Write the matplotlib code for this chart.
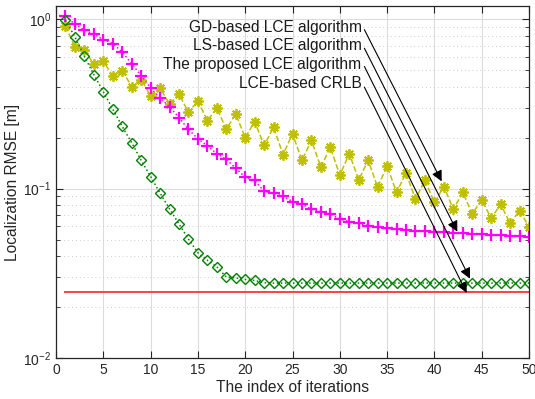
import numpy as np
import matplotlib
matplotlib.use("Agg")
import matplotlib.pyplot as plt

plt.rcParams['font.family'] = ['Liberation Sans', 'DejaVu Sans']

# Iteration index
iters = np.arange(1, 51)

# GD-based LCE algorithm (yellow asterisks)
gd_rmse = [0.912, 0.687, 0.663, 0.542, 0.567, 0.462, 0.499, 0.401, 0.441, 0.354,
           0.394, 0.316, 0.363, 0.282, 0.331, 0.252, 0.299, 0.225, 0.276, 0.200,
           0.249, 0.180, 0.230, 0.159, 0.211, 0.147, 0.193, 0.134, 0.176, 0.120,
           0.161, 0.113, 0.147, 0.102, 0.136, 0.095, 0.124, 0.0867, 0.112, 0.0829,
           0.103, 0.0756, 0.0951, 0.0710, 0.0860, 0.0668, 0.0810, 0.0624, 0.0743, 0.0597]

# LS-based LCE algorithm (magenta plus)
ls_rmse = [1.046, 0.938, 0.864, 0.818, 0.760, 0.720, 0.641, 0.547, 0.466, 0.394,
           0.343, 0.305, 0.263, 0.224, 0.197, 0.179, 0.161, 0.149, 0.132, 0.117,
           0.112, 0.0964, 0.0942, 0.0900, 0.0840, 0.0810, 0.0756, 0.0733, 0.0706, 0.0663,
           0.0639, 0.0624, 0.0605, 0.0591, 0.0583, 0.0576, 0.0572, 0.0566, 0.0563, 0.0557,
           0.0553, 0.0549, 0.0545, 0.0542, 0.0538, 0.0535, 0.0532, 0.0528, 0.0525, 0.0520]

# Proposed LCE algorithm (green diamonds)
prop_rmse = [0.99, 0.788, 0.604, 0.472, 0.374, 0.295, 0.233, 0.187, 0.147, 0.118,
             0.0942, 0.0760, 0.0619, 0.0504, 0.0418, 0.0378, 0.0345, 0.0301, 0.0297, 0.0291,
             0.0287, 0.0278, 0.0277, 0.0277, 0.0277, 0.0277, 0.0277, 0.0277, 0.0277, 0.0277,
             0.0277, 0.0277, 0.0277, 0.0277, 0.0277, 0.0277, 0.0277, 0.0277, 0.0277, 0.0277,
             0.0277, 0.0277, 0.0277, 0.0277, 0.0277, 0.0277, 0.0277, 0.0277, 0.0277, 0.0277]

# LCE-based CRLB (red line)
crlb = [0.0245] * 50

# Annotation labels, text anchor, arrow start and arrow tip
labels = ["GD-based LCE algorithm", "LS-based LCE algorithm",
          "The proposed LCE algorithm", "LCE-based CRLB"]
text_y = [0.900, 0.703, 0.542, 0.417]
arrow_start_y = [0.869, 0.675, 0.527, 0.398]
arrow_tip_x = [40.77, 42.42, 43.76, 43.41]
arrow_tip_y = [0.1105, 0.0557, 0.0294, 0.02424]

fig = plt.figure(figsize=(5.35, 3.99), dpi=100)
ax = fig.add_axes([0.1047, 0.1028, 0.8841, 0.8822])

ax.plot(iters, gd_rmse, color='#bfbf00', linestyle='--', lw=1.1,
        marker=(8, 2, 0), markersize=7.5, markeredgewidth=1.3)
ax.plot(iters, ls_rmse, color='#ff00ff', linestyle=':', lw=1.1,
        marker='+', markersize=8.5, markeredgewidth=1.6)
ax.plot(iters, prop_rmse, color='#008000', linestyle=':', lw=1.1,
        marker='D', markersize=4.8, markerfacecolor='none', markeredgewidth=1.0)
ax.plot(iters, crlb, color='#ff4040', linestyle='-', lw=1.4)

for lab, ty, sy, tx, tipy in zip(labels, text_y, arrow_start_y, arrow_tip_x, arrow_tip_y):
    ax.text(32.3, ty, lab, ha='right', va='center', fontsize=11.2, color='#1a1a1a')
    ax.annotate('', xy=(tx, tipy), xytext=(32.6, sy),
                arrowprops=dict(arrowstyle='-|>', color='k', lw=0.8,
                                mutation_scale=16, shrinkA=0, shrinkB=0))

ax.set_yscale('log')
ax.set_xlim(0, 50)
ax.set_ylim(0.01, 1.2)
ax.set_xticks(np.arange(0, 51, 5))

ax.grid(True, which='major', color='#dcdcdc', linestyle='-', lw=0.8)
ax.grid(True, which='minor', axis='y', color='#cccccc', linestyle=(0, (1, 3)), lw=0.7)
ax.set_axisbelow(True)

ax.tick_params(which='both', direction='in', top=True, right=True, labelsize=10, colors='#262626')
ax.tick_params(which='major', length=5)
ax.tick_params(which='minor', length=3)
for s in ax.spines.values():
    s.set_color('#262626')
    s.set_linewidth(0.9)

ax.set_xlabel("The index of iterations", fontsize=11.2, color='#262626', labelpad=2)
ax.set_ylabel("Localization RMSE [m]", fontsize=11.2, color='#262626', labelpad=2)

plt.savefig("out.png", dpi=100)
